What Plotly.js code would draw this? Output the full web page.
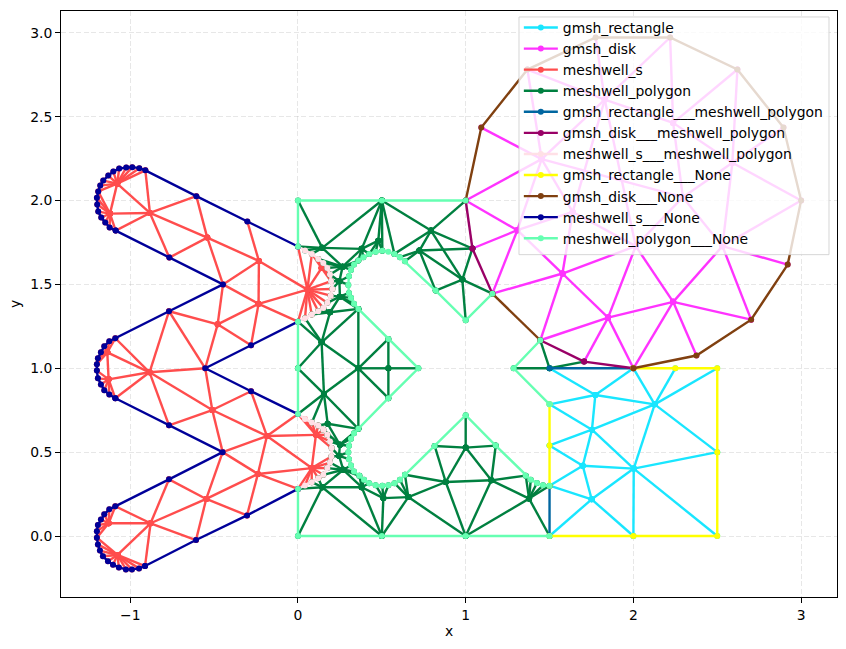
<!DOCTYPE html>
<html><head><meta charset="utf-8">
<script src="https://cdn.plot.ly/plotly-3.0.1.min.js"></script>
<style>html,body{margin:0;padding:0;background:#fff}</style></head>
<body><div id="chart" style="width:846px;height:649px"></div>
<script>
// ---------- values (data units) ----------
const seriesNames = ["gmsh_rectangle","gmsh_disk","meshwell_s","meshwell_polygon","gmsh_rectangle___meshwell_polygon","gmsh_disk___meshwell_polygon","meshwell_s___meshwell_polygon","gmsh_rectangle___None","gmsh_disk___None","meshwell_s___None","meshwell_polygon___None"];
const seriesColors = ["#19e6ff","#ff33ff","#ff4d4d","#008040","#0066a0","#990066","#ffe0e6","#ffff00","#804010","#000099","#66ffb2"];
const xTicks = [-1,0,1,2,3];
const xTickLabels = ["\u22121","0","1","2","3"];
const yTicks = [0,0.5,1,1.5,2,2.5,3];
const yTickLabels = ["0.0","0.5","1.0","1.5","2.0","2.5","3.0"];

// rectangle nodes
const r00=[1.5,0], r20=[2,0], r30=[2.5,0], r35=[2.5,.5], r31=[2.5,1], r21=[2.25,1], rc=[2,1], rb=[1.5,1], r03=[1.5,.3], r05=[1.5,.54], r07=[1.5,.785];
const ra=[1.773,.841], rbb=[2.127,.785], rcc=[1.753,.634], rd=[1.698,.419], re=[2.002,.402], rf=[1.751,.219];
// disk nodes
const diskRim=[[1,2],[1.093,2.435],[1.368,2.781],[1.775,2.972],[2.219,2.972],[2.62,2.781],[2.895,2.435],[3,2],[2.92,1.618],[2.702,1.29],[2.376,1.076],[2,1],[1.706,1.04],[1.445,1.167],[1.159,1.445],[1.04,1.714]];
const dp=[1.453,2.247], dq=[1.829,2.602], dr=[2.237,2.463], ds=[2.59,2.225], dt=[1.638,1.932], du=[1.308,1.823], dv=[2.014,1.728], dw=[2.531,1.728], dx=[1.577,1.565], dy=[1.849,1.302], dz=[2.237,1.396], da=[2.295,2.02];
// s outline
const sTopArc=[[-.91,2.18],[-.946,2.193],[-.988,2.199],[-1.024,2.197],[-1.066,2.191],[-1.101,2.173],[-1.131,2.149],[-1.161,2.119],[-1.179,2.089],[-1.191,2.054],[-1.199,2.016],[-1.197,1.976],[-1.191,1.934],[-1.173,1.899],[-1.149,1.869],[-1.123,1.839],[-1.087,1.821]];
const sMidArc=[[-1.089,1.179],[-1.125,1.161],[-1.155,1.131],[-1.175,1.095],[-1.193,1.06],[-1.199,1.024],[-1.199,.986],[-1.193,.94],[-1.175,.903],[-1.155,.869],[-1.125,.843],[-1.089,.821]];
const sLowArc=[[-1.089,.177],[-1.125,.159],[-1.155,.129],[-1.175,.099],[-1.193,.065],[-1.199,.028],[-1.199,-.01],[-1.193,-.05],[-1.181,-.087],[-1.163,-.121],[-1.133,-.151],[-1.103,-.171],[-1.068,-.187],[-1.026,-.199],[-.99,-.199],[-.948,-.193],[-.912,-.179]];
const n2=[-.606,2.026], n3=[-.302,1.875], n6=[-.767,1.66], n7=[-.447,1.5], n8=[-.769,1.34], n9=[-.28,1.137], nJ=[-.553,1], n10=[-.28,.863], n11=[-.769,.66], n12=[-.449,.5], n13=[-.769,.338], n14=[-.608,-.024], n15=[-.304,.123];
// s/polygon interface arcs
const upArc=[[0,1.726],[.042,1.702],[.083,1.682],[.121,1.652],[.151,1.628],[.175,1.598],[.191,1.559],[.197,1.519],[.205,1.473],[.195,1.433],[.175,1.39],[.151,1.36],[.121,1.34],[.082,1.32],[.042,1.298],[0,1.278]];
const midArc=[[0,.727],[.042,.697],[.083,.677],[.121,.659],[.151,.633],[.175,.603],[.191,.564],[.201,.524],[.199,.474],[.191,.438],[.175,.405],[.151,.365],[.121,.345],[.082,.321],[.042,.301],[0,.281]];
// s interior nodes
const sA=[-1.078,2.101], sB=[-1.121,1.922], sC=[-.883,1.926], sD=[-.541,1.779], sE=[-.233,1.64], sF=[.056,1.469], sG=[-.235,1.384], sH=[-.479,1.262], sI=[-.885,.976], sK=[-.511,.751], sL=[-.185,.596], sM=[-.239,.37], sN=[-.547,.221], sO=[-.879,.076], sP=[-1.076,-.113], sQ=[-1.129,.076], sR=[-1.137,1.095], sS=[-1.129,.934], sT=[.107,.603], sU=[.082,.405], sV=[.141,1.598];
// polygon outline
const p00=[0,0], p50=[.5,0], p10=[1,0], p01=[0,1], p02=[0,2], p52=[.5,2], pTip=[.718,1], pB=[1,1.286], pT=[1,.72], p53=[.539,1.175], p58=[.539,.822], pW=[1.286,1];
const holeUp=[[.36,1.354],[.334,1.384],[.316,1.42],[.304,1.449],[.3,1.497],[.304,1.549],[.316,1.586],[.334,1.618],[.36,1.642],[.39,1.662],[.425,1.682],[.463,1.694],[.503,1.7],[.539,1.694],[.575,1.682],[.608,1.662],[.638,1.638],[.821,1.463]];
const holeLow=[[.36,.639],[.334,.613],[.316,.58],[.304,.538],[.3,.5],[.304,.458],[.316,.42],[.334,.385],[.366,.359],[.394,.335],[.425,.315],[.463,.303],[.503,.299],[.539,.303],[.575,.315],[.608,.335],[.638,.365],[.815,.537]];
const holeRight=[[1.179,.539],[1.358,.36],[1.388,.336],[1.425,.316],[1.461,.302],[1.5,.3]];
// polygon interior nodes
const g1=[.145,1.718], g2=[.38,1.712], g3=[.479,1.761], g4=[.266,1.606], g5=[.247,1.519], g6=[.25,1.427], g7=[.191,1.334], g8=[.141,1.155], g9=[.36,1], g10=[.539,1], g11=[.724,1.702], g12=[.793,1.821], g13=[.98,1.529], g14=[.155,.848], g15=[.177,.669], g16=[.25,.544], g17=[.245,.478], g18=[.27,.395], g19=[.145,.291], g20=[.38,.291], g21=[.509,.226], g22=[.658,.232], h1=[1,.527], h2=[.881,.322], h3=[1.153,.332], h4=[1.378,.223];

// helpers that only turn node lists into polylines with breaks
function fan(c,list){return list.map(p=>[c,p]);}
function pick(a,i,j){return a.slice(i,j+1);}
const D=diskRim;

const gmshRectangleEdges=[].concat(
 fan(ra,[rb,rc,r07,rbb,rcc]), fan(rbb,[rc,r21,r31,rcc,re,r35]), fan(rcc,[r07,r05,rd,re]),
 fan(rd,[r05,r03,rf,re]), fan(re,[r35,r30,rf,r20]), fan(rf,[r03,r20,r00]));
const gmshDiskEdges=[].concat(
 fan(dp,[D[0],D[1],D[2],dq,du,dt,da]), fan(dq,[D[2],D[3],D[4],dr,dt,dv]), fan(dr,[D[4],D[5],ds,da]),
 fan(ds,[D[5],D[6],D[7],dw,da]), fan(dw,[D[7],D[8],D[9],dz,da]), fan(da,[dv]),
 fan(dt,[du,dx,dv]), fan(du,[D[0],D[15],D[14],dx]), fan(dx,[D[14],D[13],dy,dv]),
 fan(dy,[D[13],D[12],D[11],dz,dv]), fan(dz,[D[11],D[10],D[9],dv]));
const meshwellSEdges=[].concat(
 fan(sA,pick(sTopArc,0,9)), fan(sA,[sB,sC]), fan(sB,pick(sTopArc,9,16)), fan(sB,[sC]),
 fan(sC,[sTopArc[0],n2,sTopArc[16],n6,sD]), fan(sD,[n2,n6,n7,sE]), fan(sE,[n3,n7,sF,sG]),
 fan(sG,[n7,sH,sF,n9,upArc[15]]), fan(sH,[n7,nJ,n9,n8]), fan(n8,[nJ,sI]),
 fan(sI,[sMidArc[0],nJ,sR,sS,sMidArc[11],n11,sK]), fan(sR,pick(sMidArc,0,5)), fan(sR,[sS]), fan(sS,pick(sMidArc,6,11)),
 fan(sK,[nJ,n11,n10,sL,n12]), fan(sL,[n10,midArc[0],sT,n12,sM,sU]),
 fan(sM,[n12,sN,sU,n15,midArc[15]]), fan(sN,[n12,n13,n14,n15,sO]), fan(sO,[n13,sLowArc[0],sQ,n14,sLowArc[16],sP]),
 fan(sQ,pick(sLowArc,0,6)), fan(sP,pick(sLowArc,6,16)),
 fan(sF,[upArc[0],upArc[2],sV]), fan(sF,pick(upArc,7,15)), fan(sV,pick(upArc,2,7)),
 fan(sT,pick(midArc,0,7)), fan(sT,[sU]), fan(sU,pick(midArc,8,15)));
const meshwellPolygonEdges=[].concat(
 fan(g1,[p02,p52,upArc[0],upArc[1],upArc[2],g2,g4]), fan(g2,[p52,g3,g4,holeUp[8],holeUp[9],holeUp[10]]),
 fan(g3,[p52,holeUp[10],holeUp[11],holeUp[12]]), fan(p52,[holeUp[12],holeUp[14],g12]),
 fan(g12,[D[0],D[15],g11,g13,holeUp[14]]), fan(g11,[D[15],g13,holeUp[17],holeUp[15],holeUp[16]]),
 fan(g13,[D[15],D[14],pB,holeUp[17]]),
 fan(g4,[upArc[3],upArc[4],upArc[5],upArc[6],holeUp[6],holeUp[7],holeUp[8],g5]),
 fan(g5,[upArc[6],upArc[7],upArc[8],holeUp[4],holeUp[5],g6]),
 fan(g6,[upArc[9],upArc[10],holeUp[1],holeUp[2],holeUp[3],holeUp[0],g7]),
 fan(g7,[upArc[11],upArc[12],upArc[13],holeUp[0],g8]),
 fan(g8,[upArc[14],upArc[15],p01,holeUp[0],g9,g14]),
 fan(g9,[holeUp[0],p53,g10,holeLow[0],p58,g14]), fan(g10,[p53,p58,pTip]),
 fan(g14,[p01,midArc[0],holeLow[0],g15,midArc[2]]),
 fan(g15,[midArc[3],holeLow[0],g16]),
 fan(g16,[midArc[4],midArc[5],midArc[6],holeLow[0],holeLow[1],holeLow[2],holeLow[3],g17]),
 fan(g17,[midArc[7],midArc[8],holeLow[4],holeLow[5],g18]),
 fan(g18,[midArc[9],midArc[10],midArc[11],holeLow[6],holeLow[7],holeLow[8],g19,g20]),
 fan(g19,[p00,p50,midArc[15],midArc[12],midArc[13],g20]),
 fan(g20,[p50,g21,holeLow[8],holeLow[9],holeLow[10]]),
 fan(g21,[p50,g22,holeLow[11],holeLow[12],holeLow[13]]),
 fan(g22,[p50,p10,h2,holeLow[14],holeLow[15],holeLow[16]]),
 fan(h2,[holeLow[16],holeLow[17],h1,h3,p10]), fan(h1,[holeLow[17],pT,holeRight[0],h3]),
 fan(h3,[holeRight[0],holeRight[1],h4,p10]), fan(h4,[p10,r00,holeRight[1],holeRight[2],holeRight[3],holeRight[4],holeRight[5]]),
 fan(rb,[pW,D[13],D[12]]));
const gmshRectangleMeshwellPolygonEdges=[[r00,r03],[rb,rc]];
const gmshDiskMeshwellPolygonEdges=[[D[11],D[12]],[D[12],D[13]],[D[14],D[15]],[D[15],D[0]]];
const gmshRectangleNoneChains=[[r03,r05,r07],[r00,r20,r30,r35,r31,r21,rc]];
const gmshDiskNoneChains=[D.slice(0,12),[D[13],D[14]]];
const meshwellSNoneChains=[
 [upArc[0],n3,n2].concat(sTopArc),
 [sTopArc[16],n6,n7,n8].concat(sMidArc),
 [sMidArc[11],n11,n12,n13].concat(sLowArc),
 [sLowArc[16],n14,n15,midArc[15]],
 [upArc[15],n9,nJ,n10,midArc[0]]];
const meshwellPolygonNoneChains=[
 [midArc[15],p00,p50,p10,r00],
 [midArc[0],p01,upArc[15]],
 [upArc[0],p02,p52,D[0]],
 [D[14],pB].concat(holeUp.slice().reverse(),[p53,pTip,p58],holeLow,[pT],holeRight),
 [r07,pW,D[13]]];

const seriesChains=[gmshRectangleEdges,gmshDiskEdges,meshwellSEdges,meshwellPolygonEdges,gmshRectangleMeshwellPolygonEdges,gmshDiskMeshwellPolygonEdges,[upArc,midArc],gmshRectangleNoneChains,gmshDiskNoneChains,meshwellSNoneChains,meshwellPolygonNoneChains];

const traces=seriesNames.map((name,i)=>{
  const x=[],y=[];
  seriesChains[i].forEach(c=>{c.forEach(p=>{x.push(p[0]);y.push(p[1]);});x.push(null);y.push(null);});
  return {type:"scatter",mode:"lines+markers",name:name,x:x,y:y,
    line:{color:seriesColors[i],width:2.4},marker:{color:seriesColors[i],size:6},connectgaps:false,hoverinfo:"skip"};
});

const font={family:"DejaVu Sans",size:13.9,color:"#000"};
function axis(title,vals,text,range,standoff){return {
  title:{text:title,font:font,standoff:standoff},range:range,tickmode:"array",tickvals:vals,ticktext:text,
  showline:true,mirror:true,linecolor:"#000",linewidth:1,ticks:"outside",ticklen:5,tickwidth:1,tickcolor:"#000",
  tickfont:font,zeroline:false,showgrid:true,gridcolor:"rgba(176,176,176,0.3)",griddash:"5px,2.5px",gridwidth:1};}

Plotly.newPlot("chart",traces,{
  width:846,height:649,margin:{l:61,r:9,t:11,b:52},
  paper_bgcolor:"#fff",plot_bgcolor:"#fff",font:font,
  xaxis:axis("x",xTicks,xTickLabels,[-1.413,3.214],4),
  yaxis:axis("y",yTicks,yTickLabels,[-0.3636,3.13],6),
  showlegend:true,
  shapes:[{type:"rect",layer:"above",xref:"paper",yref:"paper",x0:0.5902,x1:0.9897,y0:0.5842,y1:0.9898,
    fillcolor:"rgba(255,255,255,0.8)",line:{color:"rgba(204,204,204,0.8)",width:1}}],
  legend:{x:0.59,y:0.9983,xanchor:"left",yanchor:"top",bgcolor:"rgba(0,0,0,0)",borderwidth:0,font:font,traceorder:"normal",itemwidth:34,tracegroupgap:0}
},{displayModeBar:false,staticPlot:true});
</script></body></html>
